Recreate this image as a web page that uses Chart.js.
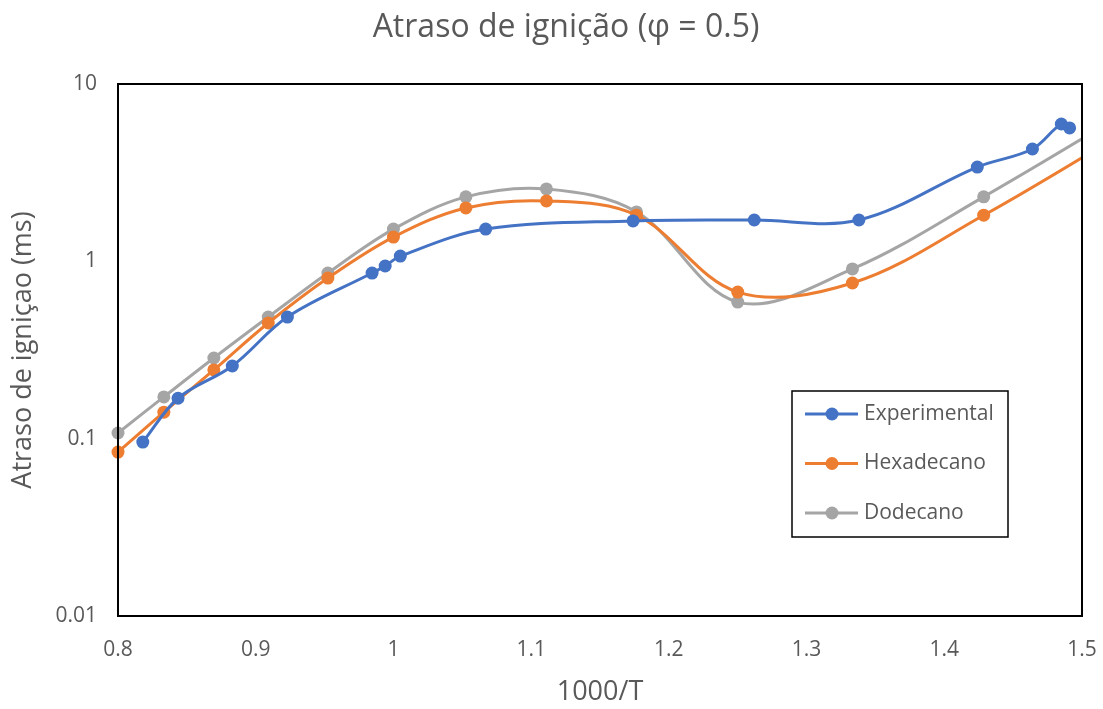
<!DOCTYPE html>
<html>
<head>
<meta charset="utf-8">
<script src="https://cdn.jsdelivr.net/npm/chart.js@4"></script>
<style>
  html, body { margin: 0; padding: 0; background: #fff; }
  #wrap { width: 1103px; height: 709px; position: relative; }
</style>
</head>
<body>
<div id="wrap"><canvas id="c" width="1103" height="709"></canvas></div>
<script>
// ---- data ----
const expX = [0.818, 0.8436, 0.883, 0.923, 0.9845, 0.994, 1.005, 1.067, 1.174, 1.262, 1.338, 1.424, 1.464, 1.485, 1.491];
const expY = [0.0957, 0.169, 0.257, 0.485, 0.859, 0.941, 1.07, 1.52, 1.69, 1.71, 1.71, 3.40, 4.30, 5.95, 5.65];

const modelX = [0.8, 0.8333, 0.8696, 0.9091, 0.9524, 1.0, 1.0526, 1.1111, 1.1765, 1.25, 1.3333, 1.4286, 1.5385];
const hexaY  = [0.084, 0.141, 0.244, 0.449, 0.805, 1.37, 2.0, 2.19, 1.82, 0.671, 0.755, 1.82, 5.8];
const dodeY  = [0.1076, 0.172, 0.285, 0.485, 0.859, 1.52, 2.31, 2.56, 1.90, 0.589, 0.906, 2.31, 7.4];

const seriesNames = ['Experimental', 'Hexadecano', 'Dodecano'];
const yTicks = [0.01, 0.1, 1, 10];
const yTickLabels = ['0.01', '0.1', '1', '10'];

const titleText = 'Atraso de ignição (φ = 0.5)';
const xTitle = '1000/T';
const yTitle = 'Atraso de igniçao (ms)';

const colors = ['#4472C4', '#ED7D31', '#A5A5A5'];
const FONT = "'Open Sans', 'Noto Sans', sans-serif";
const TXT = '#595959';

const toPts = (xs, ys) => xs.map((x, i) => ({ x: x, y: ys[i] }));

function ds(label, data, color) {
  return {
    label: label,
    data: data,
    borderColor: color,
    backgroundColor: color,
    borderWidth: 3,
    pointRadius: 6.5,
    pointHoverRadius: 6.5,
    pointBorderWidth: 0,
    tension: 0.35,
    clip: { left: 12, top: 12, bottom: 12, right: 0 }
  };
}

const boxPlugin = {
  id: 'boxAndLegend',
  afterDraw(chart) {
    const ctx = chart.ctx;
    const a = chart.chartArea;
    ctx.save();
    // title
    ctx.fillStyle = TXT;
    ctx.font = "32px " + FONT;
    ctx.textAlign = 'center';
    ctx.textBaseline = 'middle';
    ctx.fillText(titleText, 566, 28);

    ctx.strokeStyle = '#000';
    ctx.lineWidth = 2;
    ctx.strokeRect(a.left, a.top, a.right - a.left, a.bottom - a.top);

    // legend box
    const lx = a.left + 674, ly = a.top + 307, lw = 216, lh = 146;
    ctx.lineWidth = 1.5;
    ctx.fillStyle = '#fff';
    ctx.fillRect(lx, ly, lw, lh);
    ctx.strokeRect(lx, ly, lw, lh);
    chart.data.datasets.forEach((d, i) => {
      const yy = ly + 23 + i * 49.5;
      ctx.strokeStyle = d.borderColor;
      ctx.lineWidth = 3;
      ctx.beginPath();
      ctx.moveTo(lx + 13, yy);
      ctx.lineTo(lx + 66, yy);
      ctx.stroke();
      ctx.fillStyle = d.borderColor;
      ctx.beginPath();
      ctx.arc(lx + 40, yy, 6.5, 0, Math.PI * 2);
      ctx.fill();
      ctx.fillStyle = TXT;
      ctx.font = "21px " + FONT;
      ctx.textBaseline = 'middle';
      ctx.textAlign = 'left';
      ctx.fillText(d.label, lx + 72, yy);
    });
    ctx.restore();
  }
};

new Chart(document.getElementById('c'), {
  type: 'line',
  data: {
    datasets: [
      ds(seriesNames[0], toPts(expX, expY), colors[0]),
      ds(seriesNames[1], toPts(modelX, hexaY), colors[1]),
      ds(seriesNames[2], toPts(modelX, dodeY), colors[2])
    ]
  },
  options: {
    responsive: false,
    animation: false,
    events: [],
    layout: { padding: { left: 0, right: 21, top: 84, bottom: 0 } },
    plugins: {
      legend: { display: false },
      tooltip: { enabled: false },
      title: { display: false }
    },
    scales: {
      x: {
        type: 'linear',
        min: 0.8,
        max: 1.5,
        grid: { display: false, drawTicks: false },
        border: { display: true, color: '#000', width: 2 },
        ticks: {
          stepSize: 0.1,
          color: TXT,
          padding: 21,
          font: { family: FONT, size: 21 },
          callback: (v) => String(parseFloat(Number(v).toFixed(1)))
        },
        title: {
          display: true,
          text: xTitle,
          color: TXT,
          font: { family: FONT, size: 27 },
          padding: { top: 6, bottom: 0 }
        },
        afterFit(s) { s.height = 93; s.paddingLeft = 0; s.paddingRight = 0; }
      },
      y: {
        type: 'logarithmic',
        min: 0.01,
        max: 10,
        grid: { display: false, drawTicks: false },
        border: { display: true, color: '#000', width: 2 },
        afterBuildTicks(s) { s.ticks = yTicks.map(v => ({ value: v })); },
        ticks: {
          color: TXT,
          padding: 21,
          font: { family: FONT, size: 21 },
          callback: (v) => { const i = yTicks.indexOf(v); return i >= 0 ? yTickLabels[i] : ''; }
        },
        title: {
          display: true,
          text: yTitle,
          color: TXT,
          font: { family: FONT, size: 27 },
          padding: { top: 7, bottom: 4 }
        },
        afterFit(s) { s.width = 118; s.paddingTop = 0; s.paddingBottom = 0; }
      }
    }
  },
  plugins: [boxPlugin]
});
</script>
</body>
</html>
